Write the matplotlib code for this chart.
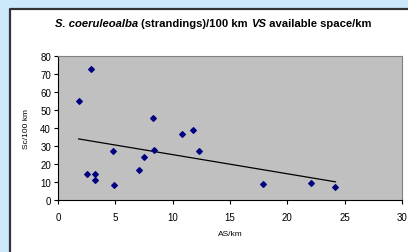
import matplotlib.pyplot as plt
from matplotlib.patches import Rectangle
from matplotlib.lines import Line2D
import numpy as np

plt.rcParams['font.family'] = ['Liberation Sans', 'DejaVu Sans']

# values
as_km = [1.8, 2.9, 2.5, 3.2, 3.2, 4.8, 4.9, 7.1, 7.5, 8.3, 8.4,
         10.8, 11.8, 12.3, 17.9, 22.1, 24.2]
sc_100km = [55, 72.5, 14.5, 14.5, 10.8, 27, 8.3, 16.7, 23.6, 45.4, 27.7,
            36.6, 38.8, 27.2, 8.7, 9.3, 6.8]
x_ticks = [0, 5, 10, 15, 20, 25, 30]
y_ticks = [0, 10, 20, 30, 40, 50, 60, 70, 80]

fig = plt.figure(figsize=(4.08, 2.53), dpi=100)
fig.patch.set_facecolor('#cce8fb')

# white chart panel, running off the right/bottom edge; border only left/top
px, py = 9.5 / 408, 1 - 9.5 / 253
fig.patches.append(Rectangle((px, -0.2), 1.2, py + 0.2,
                             transform=fig.transFigure, facecolor='white',
                             edgecolor='none', zorder=-5, clip_on=False))
fig.lines.append(Line2D([px, px, 1.2], [-0.2, py, py],
                        transform=fig.transFigure, color='#333333',
                        linewidth=1.6, zorder=-4, clip_on=False))

ax = fig.add_axes([58 / 408, 1 - 200.6 / 253, 344 / 408, 143.6 / 253])
ax.set_facecolor('#c0c0c0')

ax.scatter(as_km, sc_100km, marker='D', s=8, color='#000080', zorder=3)

# linear trend line over the data range
k, b = np.polyfit(as_km, sc_100km, 1)
xs = np.array([min(as_km), max(as_km)])
ax.plot(xs, k * xs + b, color='black', linewidth=0.9, zorder=2)

ax.set_xlim(0, 30)
ax.set_ylim(0, 80)
ax.set_xticks(x_ticks)
ax.set_yticks(y_ticks)
ax.tick_params(labelsize=7, length=3, width=0.8, direction='out')
ax.tick_params(axis='x', pad=6)
ax.tick_params(axis='y', pad=2)

for side in ['top', 'right']:
    ax.spines[side].set_color('#808080')
    ax.spines[side].set_linewidth(0.8)
for side in ['left', 'bottom']:
    ax.spines[side].set_color('black')
    ax.spines[side].set_linewidth(0.8)

ax.set_xlabel('AS/km', fontsize=6)
ax.set_ylabel('Sc/100 km', fontsize=6)
ax.xaxis.set_label_coords(0.5, -0.215)
ax.yaxis.set_label_coords(-0.08, 0.5)

# title with mixed italic / bold pieces
ty = 1 - 27 / 253
fs = 8.1
t1 = fig.text(55 / 408, ty, 'S. coeruleoalba', fontsize=fs,
              style='italic', weight='bold')
t2 = fig.text(0, 0, ' (strandings)/100 km ', fontsize=fs, weight='bold')
t3 = fig.text(0, 0, 'VS', fontsize=fs, style='italic', weight='bold')
t4 = fig.text(0, 0, ' available space/km', fontsize=fs, weight='bold')
fig.canvas.draw()
prev = t1
for t in [t2, t3, t4]:
    bb = prev.get_window_extent()
    t.set_position((bb.x1 / fig.bbox.width, ty))
    fig.canvas.draw()
    prev = t

fig.savefig('out.png', dpi=100, facecolor=fig.get_facecolor())
